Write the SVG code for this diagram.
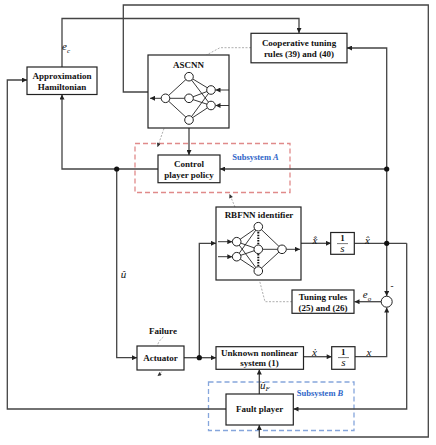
<svg xmlns="http://www.w3.org/2000/svg" width="436" height="445" viewBox="0 0 436 445">
<defs>
<marker id="ah" viewBox="0 0 10 10" refX="10" refY="5" markerWidth="6" markerHeight="5" orient="auto" markerUnits="userSpaceOnUse"><path d="M0,0 L10,5 L0,10 z" fill="#222"/></marker>
<marker id="ahg" viewBox="0 0 10 10" refX="10" refY="5" markerWidth="5" markerHeight="4" orient="auto" markerUnits="userSpaceOnUse"><path d="M0,0 L10,5 L0,10 z" fill="#333"/></marker>
<style>
.box{fill:#fff;stroke:#222;stroke-width:1.2}
.ln{fill:none;stroke:#444;stroke-width:1.3}
.nn{fill:none;stroke:#222;stroke-width:0.9}
.nd{fill:#fff;stroke:#222;stroke-width:1}
.dl{fill:none;stroke:#999;stroke-width:0.8;stroke-dasharray:2,1.5}
.t{font-family:"Liberation Serif",serif;font-weight:bold;font-size:9px;fill:#111;text-anchor:middle}
.m{font-family:"Liberation Serif",serif;font-style:italic;font-size:11px;fill:#111;text-anchor:middle}
.ms{font-family:"Liberation Serif",serif;font-style:italic;font-size:7px;fill:#111}
.sub{font-family:"Liberation Serif",serif;font-weight:bold;font-size:8.5px;fill:#2f66c8;text-anchor:middle}
.dot{fill:#111}
</style>
</defs>
<rect width="436" height="445" fill="#fff"/>

<!-- subsystem frames -->
<rect x="135" y="143.5" width="155" height="49" fill="none" stroke="#e08a8a" stroke-width="1.3" stroke-dasharray="5,3"/>
<text class="sub" x="255.5" y="160">Subsystem <tspan font-style="italic">A</tspan></text>
<rect x="208.5" y="382" width="145.5" height="48.5" fill="none" stroke="#86a6dc" stroke-width="1.3" stroke-dasharray="5,3"/>
<text class="sub" x="320" y="395.5">Subsystem <tspan font-style="italic">B</tspan></text>

<g id="connectors">
<polyline class="ln" points="62,67 62,18.5 299,18.5 299,33" marker-end="url(#ah)"/>
<polyline class="ln" points="148,92 123.3,92 123.3,5 428.3,5 428.3,437 259.3,437 259.3,425" marker-end="url(#ah)"/>
<polyline class="ln" points="386.7,243.3 386.7,48 347,48" marker-end="url(#ah)"/>
<line class="ln" x1="386.7" y1="169" x2="220" y2="169" marker-end="url(#ah)"/>
<line class="ln" x1="189" y1="128" x2="189" y2="155" marker-end="url(#ah)"/>
<polyline class="ln" points="158,169 62,169 62,94.5" marker-end="url(#ah)"/>
<polyline class="ln" points="116.7,169 116.7,357.7 137,357.7" marker-end="url(#ah)"/>
<line class="ln" x1="184" y1="357.7" x2="216" y2="357.7" marker-end="url(#ah)"/>
<polyline class="ln" points="199.3,357.7 199.3,243.3 216,243.3" marker-end="url(#ah)"/>
<line class="ln" x1="301" y1="243.3" x2="331" y2="243.3" marker-end="url(#ah)"/>
<line class="ln" x1="354.3" y1="243.3" x2="406.7" y2="243.3"/>
<polyline class="ln" points="406.7,243.3 406.7,409 293.5,409" marker-end="url(#ah)"/>
<line class="ln" x1="386.7" y1="243.3" x2="386.7" y2="296" marker-end="url(#ah)"/>
<line class="ln" x1="381" y1="301.7" x2="354.5" y2="301.7" marker-end="url(#ah)"/>
<line class="ln" x1="303.5" y1="356.7" x2="331.7" y2="356.7" marker-end="url(#ah)"/>
<polyline class="ln" points="355,356.7 386.7,356.7 386.7,307.4" marker-end="url(#ah)"/>
<line class="ln" x1="259.3" y1="394" x2="259.3" y2="369.5" marker-end="url(#ah)"/>
<polyline class="ln" points="226,409 7.3,409 7.3,80 27,80" marker-end="url(#ah)"/>
<circle class="dot" cx="116.7" cy="169" r="2.6"/>
<circle class="dot" cx="386.7" cy="169" r="2.6"/>
<circle class="dot" cx="386.7" cy="243.3" r="2.6"/>
<circle class="dot" cx="199.3" cy="357.7" r="2.6"/>
<polyline class="dl" points="251,47.7 220,47.7 206.5,55"/>
<line class="dl" x1="164" y1="128.5" x2="157.5" y2="147" marker-end="url(#ahg)"/>
<line class="dl" x1="235" y1="207" x2="229.5" y2="194" marker-end="url(#ahg)"/>
<polyline class="dl" points="292,301.7 265,301.7 259.5,280.5"/>
<path class="dl" d="M163.3,337 C155,344 156,351 161,357 S164,371 157.5,376" marker-end="url(#ahg)"/>
</g>

<!-- labels -->
<text class="m" x="66" y="50">e<tspan class="ms" dy="2.5">c</tspan></text>
<text class="m" x="123.5" y="278">û</text>
<text class="m" x="315" y="244">x̂̇</text>
<text class="m" x="367.5" y="244">x̂</text>
<text class="m" x="314.5" y="356">ẋ</text>
<text class="m" x="369" y="356">x</text>
<text class="m" x="367" y="298">e<tspan class="ms" dy="2.5">o</tspan></text>
<text class="t" x="392" y="289" font-size="11">-</text>
<text class="m" x="265" y="389" font-size="10">û<tspan class="ms" dy="2">F</tspan></text>

<g id="approx-hamiltonian">
<rect class="box" x="27" y="67" width="70" height="27.5"/>
<text class="t" x="62" y="78.5">Approximation</text>
<text class="t" x="62" y="89.5">Hamiltonian</text>
</g>

<g id="coop-tuning">
<rect class="box" x="251" y="33.3" width="96" height="29.5"/>
<text class="t" x="299" y="46">Cooperative tuning</text>
<text class="t" x="299" y="57">rules (39) and (40)</text>
</g>

<g id="ascnn">
<rect class="box" x="148" y="55" width="81" height="73"/>
<text class="t" x="188.5" y="68">ASCNN</text>
<g class="nn">
<line x1="165.5" y1="98.3" x2="189" y2="76.7"/>
<line x1="165.5" y1="98.3" x2="189" y2="98.3"/>
<line x1="165.5" y1="98.3" x2="189" y2="120"/>
<line x1="189" y1="76.7" x2="211" y2="90"/>
<line x1="189" y1="76.7" x2="211" y2="105.5"/>
<line x1="189" y1="98.3" x2="211" y2="90"/>
<line x1="189" y1="98.3" x2="211" y2="105.5"/>
<line x1="189" y1="120" x2="211" y2="90"/>
<line x1="189" y1="120" x2="211" y2="105.5"/>
<line x1="161" y1="98.3" x2="150" y2="98.3" marker-end="url(#ah)"/>
<line x1="229" y1="90" x2="215.5" y2="90" marker-end="url(#ah)"/>
<line x1="229" y1="105.5" x2="215.5" y2="105.5" marker-end="url(#ah)"/>
</g>
<circle class="nd" cx="165.5" cy="98.3" r="4.3"/>
<circle class="nd" cx="189" cy="76.7" r="4.3"/>
<circle class="nd" cx="189" cy="98.3" r="4.3"/>
<circle class="nd" cx="189" cy="120" r="4.3"/>
<circle class="nd" cx="211" cy="90" r="4.3"/>
<circle class="nd" cx="211" cy="105.5" r="4.3"/>
</g>

<g id="control-policy">
<rect class="box" x="158" y="155" width="62" height="27.7"/>
<text class="t" x="189" y="166.5">Control</text>
<text class="t" x="189" y="177.5">player policy</text>
</g>

<g id="rbfnn">
<rect class="box" x="216" y="207" width="85" height="73"/>
<text class="t" x="259" y="217.5">RBFNN  identifier</text>
<g class="nn">
<line x1="236.7" y1="241.7" x2="258.3" y2="226.7"/>
<line x1="236.7" y1="241.7" x2="258.3" y2="249.3"/>
<line x1="236.7" y1="241.7" x2="258.3" y2="271"/>
<line x1="236.7" y1="256.7" x2="258.3" y2="226.7"/>
<line x1="236.7" y1="256.7" x2="258.3" y2="249.3"/>
<line x1="236.7" y1="256.7" x2="258.3" y2="271"/>
<line x1="258.3" y1="226.7" x2="282" y2="249.3"/>
<line x1="258.3" y1="249.3" x2="282" y2="249.3"/>
<line x1="258.3" y1="271" x2="282" y2="249.3"/>
<line x1="218" y1="241.7" x2="232.3" y2="241.7" marker-end="url(#ah)"/>
<line x1="218" y1="256.7" x2="232.3" y2="256.7" marker-end="url(#ah)"/>
<line x1="286.3" y1="249.3" x2="300" y2="249.3" marker-end="url(#ah)"/>
</g>
<line x1="258.3" y1="232" x2="258.3" y2="244.5" stroke="#111" stroke-width="2" stroke-dasharray="1.5,1.2"/>
<line x1="258.3" y1="254" x2="258.3" y2="266" stroke="#111" stroke-width="2" stroke-dasharray="1.5,1.2"/>
<circle class="nd" cx="236.7" cy="241.7" r="4.3"/>
<circle class="nd" cx="236.7" cy="256.7" r="4.3"/>
<circle class="nd" cx="258.3" cy="226.7" r="4.3"/>
<circle class="nd" cx="258.3" cy="249.3" r="4.3"/>
<circle class="nd" cx="258.3" cy="271" r="4.3"/>
<circle class="nd" cx="282" cy="249.3" r="4.3"/>
</g>

<g id="integrator-1">
<rect class="box" x="330.7" y="232.5" width="23.6" height="21.8"/>
<text class="t" x="342.5" y="241" font-size="7.5">1</text>
<line x1="337" y1="243.6" x2="348" y2="243.6" stroke="#222" stroke-width="0.6"/>
<text class="m" x="342.5" y="251.5" font-size="8">s</text>
</g>

<g id="sum">
<circle class="nd" cx="386.7" cy="301.7" r="5.5" stroke-width="1.2"/>
</g>

<g id="tuning-rules">
<rect class="box" x="292" y="290" width="62" height="23.3"/>
<text class="t" x="323" y="300">Tuning rules</text>
<text class="t" x="323" y="310.5">(25) and (26)</text>
</g>

<g id="actuator">
<rect class="box" x="137" y="346" width="47" height="24"/>
<text class="t" x="160.5" y="361.3">Actuator</text>
<text class="t" x="163" y="334">Failure</text>
</g>

<g id="unknown-system">
<rect class="box" x="216" y="346.7" width="87.5" height="22.6"/>
<text class="t" x="259.5" y="355.5">Unknown nonlinear</text>
<text class="t" x="259.5" y="366.3">system (1)</text>
</g>

<g id="integrator-2">
<rect class="box" x="331.7" y="346.7" width="23.3" height="22.6"/>
<text class="t" x="343.3" y="355" font-size="7.5">1</text>
<line x1="338" y1="357.6" x2="349" y2="357.6" stroke="#222" stroke-width="0.6"/>
<text class="m" x="343.3" y="366" font-size="8">s</text>
</g>

<g id="fault-player">
<rect class="box" x="226" y="394" width="67.3" height="31"/>
<text class="t" x="259.6" y="412.3">Fault player</text>
</g>
</svg>
